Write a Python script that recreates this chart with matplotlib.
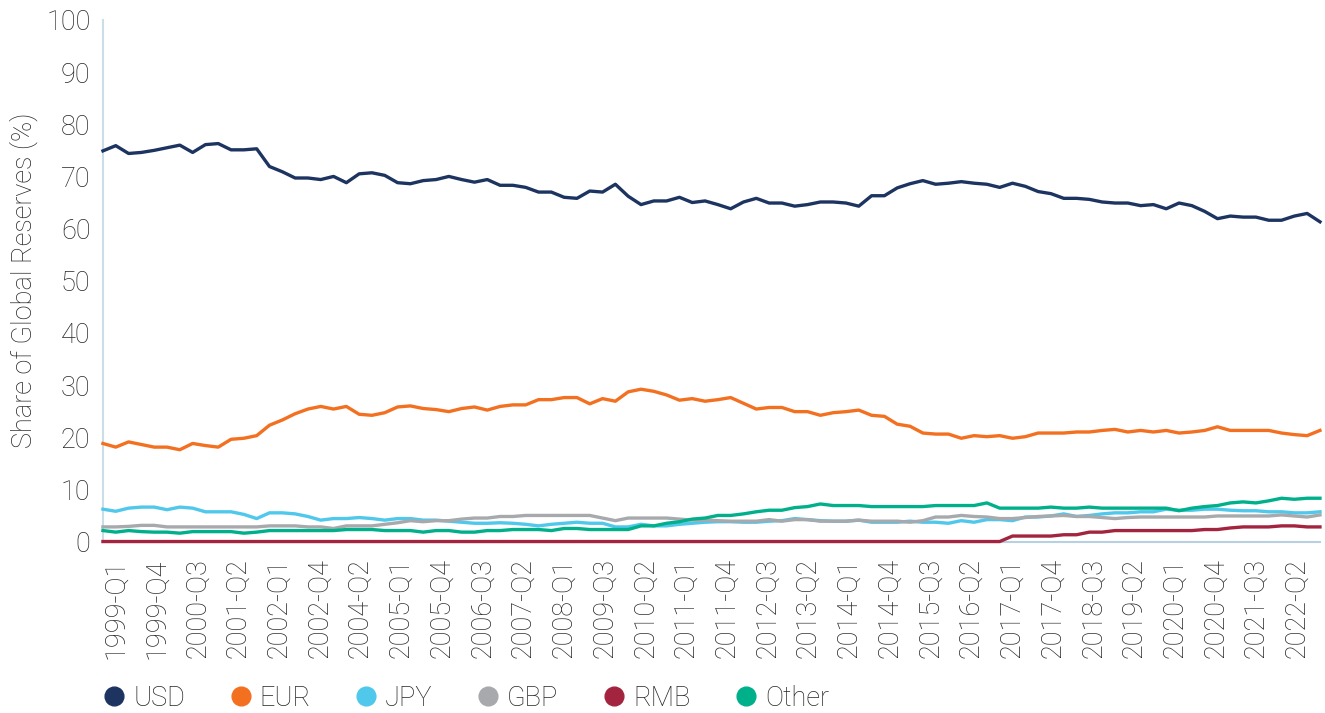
import numpy as np
import matplotlib.pyplot as plt
from matplotlib.lines import Line2D

plt.rcParams['font.family'] = ['Roboto', 'DejaVu Sans']

# quarterly shares of global reserves (%), 1999-Q1 .. 2022-Q4
usd = [74.9, 75.9, 74.4, 74.6, 75.0, 75.5, 76.0, 74.6, 76.1, 76.3,
       75.1, 75.1, 75.3, 71.9, 70.9, 69.7, 69.7, 69.4, 70.0, 68.8,
       70.5, 70.7, 70.2, 68.8, 68.6, 69.2, 69.4, 70.0, 69.4, 68.9,
       69.4, 68.3, 68.3, 67.9, 67.0, 67.0, 66.0, 65.8, 67.2, 67.0,
       68.5, 66.2, 64.6, 65.3, 65.3, 66.0, 65.0, 65.3, 64.6, 63.8,
       65.1, 65.8, 64.9, 64.9, 64.3, 64.6, 65.1, 65.1, 64.9, 64.3,
       66.3, 66.3, 67.8, 68.6, 69.2, 68.5, 68.7, 69.0, 68.7, 68.5,
       67.9, 68.7, 68.1, 67.1, 66.7, 65.8, 65.8, 65.6, 65.1, 64.9,
       64.9, 64.4, 64.6, 63.8, 64.9, 64.4, 63.3, 61.9, 62.4, 62.2,
       62.2, 61.6, 61.6, 62.4, 62.9, 61.3]
eur = [18.8, 18.1, 19.1, 18.6, 18.1, 18.1, 17.6, 18.8, 18.4, 18.1,
       19.6, 19.8, 20.3, 22.3, 23.3, 24.5, 25.4, 25.9, 25.4, 25.9,
       24.4, 24.2, 24.7, 25.8, 26.0, 25.5, 25.3, 24.9, 25.5, 25.8,
       25.2, 25.9, 26.2, 26.2, 27.2, 27.2, 27.6, 27.6, 26.4, 27.4,
       26.9, 28.7, 29.2, 28.8, 28.1, 27.1, 27.4, 26.9, 27.2, 27.6,
       26.5, 25.4, 25.7, 25.7, 24.9, 24.9, 24.2, 24.7, 24.9, 25.2,
       24.2, 24.0, 22.5, 22.1, 20.8, 20.6, 20.6, 19.8, 20.3, 20.1,
       20.3, 19.8, 20.1, 20.8, 20.8, 20.8, 21.0, 21.0, 21.3, 21.5,
       21.0, 21.3, 21.0, 21.3, 20.8, 21.0, 21.3, 22.0, 21.3, 21.3,
       21.3, 21.3, 20.8, 20.5, 20.3, 21.3]
jpy = [6.2, 5.8, 6.4, 6.6, 6.6, 6.1, 6.6, 6.4, 5.7, 5.7,
       5.7, 5.2, 4.4, 5.5, 5.5, 5.3, 4.8, 4.1, 4.4, 4.4,
       4.6, 4.4, 4.1, 4.4, 4.4, 4.1, 4.1, 3.9, 3.7, 3.5,
       3.5, 3.6, 3.5, 3.3, 3.0, 3.3, 3.5, 3.7, 3.5, 3.5,
       2.8, 2.8, 3.3, 3.0, 3.0, 3.3, 3.5, 3.7, 3.8, 3.8,
       3.7, 3.7, 3.9, 4.0, 4.4, 4.2, 4.0, 3.9, 3.9, 4.1,
       3.7, 3.7, 3.7, 3.9, 3.7, 3.7, 3.5, 4.0, 3.7, 4.2,
       4.2, 4.0, 4.7, 4.7, 4.9, 5.3, 4.8, 5.0, 5.3, 5.5,
       5.5, 5.7, 5.7, 6.2, 6.0, 6.0, 6.2, 6.2, 6.0, 5.9,
       5.9, 5.7, 5.7, 5.5, 5.5, 5.7]
gbp = [2.8, 2.8, 2.9, 3.1, 3.1, 2.8, 2.8, 2.8, 2.8, 2.8,
       2.8, 2.8, 2.8, 3.0, 3.0, 3.0, 2.8, 2.8, 2.5, 3.0,
       3.0, 3.0, 3.3, 3.6, 4.0, 3.8, 4.0, 4.0, 4.3, 4.5,
       4.5, 4.8, 4.8, 5.0, 5.0, 5.0, 5.0, 5.0, 5.0, 4.5,
       4.0, 4.5, 4.5, 4.5, 4.5, 4.3, 4.1, 4.1, 4.0, 3.9,
       3.9, 3.9, 4.2, 3.9, 4.2, 4.2, 3.9, 3.9, 3.9, 4.1,
       3.9, 3.9, 3.9, 3.7, 4.0, 4.7, 4.7, 5.0, 4.8, 4.7,
       4.4, 4.4, 4.6, 4.8, 4.9, 5.0, 4.8, 4.8, 4.6, 4.4,
       4.6, 4.7, 4.7, 4.7, 4.7, 4.7, 4.7, 4.9, 4.9, 4.9,
       4.9, 4.9, 5.1, 4.9, 4.7, 5.1]
rmb = [0.0] * 71 + [1.05, 1.05, 1.05, 1.05, 1.3, 1.3, 1.8, 1.8, 2.1,
                    2.1, 2.1, 2.1, 2.1, 2.1, 2.1, 2.3, 2.3, 2.6, 2.8,
                    2.8, 2.8, 3.0, 3.0, 2.8, 2.8]
other = [2.1, 1.8, 2.1, 1.9, 1.8, 1.8, 1.6, 1.9, 1.9, 1.9,
         1.9, 1.6, 1.8, 2.1, 2.1, 2.1, 2.1, 2.1, 2.1, 2.3,
         2.3, 2.3, 2.1, 2.1, 2.1, 1.8, 2.1, 2.1, 1.8, 1.8,
         2.1, 2.1, 2.3, 2.3, 2.3, 2.1, 2.5, 2.5, 2.3, 2.3,
         2.3, 2.3, 3.0, 3.0, 3.5, 3.8, 4.3, 4.5, 5.0, 5.0,
         5.3, 5.7, 6.0, 6.0, 6.5, 6.7, 7.2, 6.9, 6.9, 6.9,
         6.7, 6.7, 6.7, 6.7, 6.7, 6.9, 6.9, 6.9, 6.9, 7.4,
         6.4, 6.4, 6.4, 6.4, 6.6, 6.4, 6.4, 6.6, 6.4, 6.4,
         6.4, 6.4, 6.4, 6.4, 5.9, 6.4, 6.7, 6.9, 7.4, 7.6,
         7.4, 7.8, 8.3, 8.1, 8.3, 8.3]

tick_labels = ['1999-Q1', '1999-Q4', '2000-Q3', '2001-Q2', '2002-Q1', '2002-Q4',
               '2004-Q2', '2005-Q1', '2005-Q4', '2006-Q3', '2007-Q2', '2008-Q1',
               '2009-Q3', '2010-Q2', '2011-Q1', '2011-Q4', '2012-Q3', '2013-Q2',
               '2014-Q1', '2014-Q4', '2015-Q3', '2016-Q2', '2017-Q1', '2017-Q4',
               '2018-Q3', '2019-Q2', '2020-Q1', '2020-Q4', '2021-Q3', '2022-Q2']

names = ['USD', 'EUR', 'JPY', 'GBP', 'RMB', 'Other']
colors = ['#1d3461', '#f37021', '#4fc8ec', '#a7a9ac', '#a3243e', '#00b08b']
series = [usd, eur, jpy, gbp, rmb, other]

text_col = '#262626'
fs = 19.5

fig = plt.figure(figsize=(13.25, 7.13), dpi=100)
ax = fig.add_axes([0.0777, 0.2405, 0.9185, 0.7315])

x = np.arange(len(usd))
for s, c in zip(series, colors):
    ax.plot(x, s, color=c, lw=2.4, clip_on=False, zorder=3)

ax.set_xlim(0, len(usd) - 1)
ax.set_ylim(0, 100)
ax.set_yticks(np.arange(0, 101, 10))
ax.set_xticks(np.linspace(1, 93.2, len(tick_labels)))
ax.set_xticklabels(tick_labels, rotation=90)
ax.tick_params(axis='both', length=0, labelsize=fs, labelcolor=text_col)
ax.tick_params(axis='x', pad=12)
ax.tick_params(axis='y', pad=9)
for lab in ax.get_xticklabels() + ax.get_yticklabels():
    lab.set_fontweight('light')

for side in ['top', 'right']:
    ax.spines[side].set_visible(False)
ax.spines['left'].set_color('#cddde8')
ax.spines['bottom'].set_color('#b9d0e0')
ax.spines['left'].set_linewidth(1.5)
ax.spines['bottom'].set_linewidth(1.5)

ax.set_ylabel('Share of Global Reserves (%)', fontsize=fs, color=text_col,
              fontweight='light', labelpad=6)

handles = [Line2D([], [], ls='none', marker='o', ms=13.5, color=c) for c in colors]
leg = fig.legend(handles, names, loc='center left', bbox_to_anchor=(0.078, 0.021),
                 ncol=6, frameon=False, handletextpad=0.3, borderpad=0,
                 borderaxespad=0, columnspacing=1.65, handlelength=0.8,
                 prop={'size': fs, 'weight': 'light'})
for t in leg.get_texts():
    t.set_color(text_col)

plt.savefig('out.png', dpi=100)
